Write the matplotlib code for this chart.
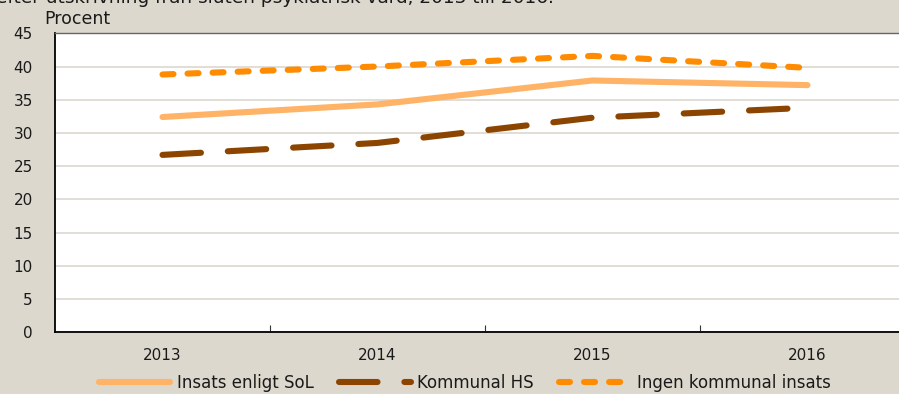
import matplotlib.pyplot as plt

# Andel (procent) per år och insatstyp
years = ['2013', '2014', '2015', '2016']
insats_sol = [32.4, 34.3, 37.9, 37.2]
kommunal_hs = [26.7, 28.5, 32.3, 33.8]
ingen_insats = [38.8, 40.0, 41.6, 39.8]

plt.rcParams['font.family'] = ['DejaVu Sans']
bg = '#ddd8ce'
txt = '#1a1a1a'

fig = plt.figure(figsize=(8.99, 3.94), dpi=100, facecolor=bg)
ax = fig.add_axes([55 / 899, 1 - 332.3 / 394, 860 / 899, 299 / 394])
ax.set_facecolor('white')

x = range(len(years))
ax.plot(x, insats_sol, color='#ffb366', lw=4.4, solid_capstyle='round',
        label='Insats enligt SoL', zorder=3)
ax.plot(x, kommunal_hs, color='#8b4500', lw=4.4, dashes=(6.3, 4.4),
        dash_capstyle='round', label='Kommunal HS', zorder=3)
ax.plot(x, ingen_insats, color='#ff8c00', lw=4.4, dashes=(1.8, 2.3),
        dash_capstyle='round', label='Ingen kommunal insats', zorder=3)

ax.set_xlim(-0.5, 3.5)
ax.set_ylim(0, 45)
ax.set_yticks(range(0, 46, 5))
ax.yaxis.grid(True, color='#dcd8d0', lw=1.2)
ax.set_axisbelow(True)
ax.tick_params(axis='y', length=0, pad=16, labelsize=11, labelcolor=txt)

# category boundaries as major ticks, year labels on minor ticks
ax.set_xticks([0.5, 1.5, 2.5])
ax.set_xticklabels([])
ax.set_xticks(list(x), minor=True)
ax.set_xticklabels(years, minor=True)
ax.tick_params(axis='x', which='major', direction='in', length=5, color='#333333')
ax.tick_params(axis='x', which='minor', length=0, pad=11, labelsize=11, labelcolor=txt)

for s in ('left', 'bottom'):
    ax.spines[s].set_color('black')
    ax.spines[s].set_linewidth(1.3)
ax.spines['top'].set_color('#666666')
ax.spines['top'].set_linewidth(1.0)
ax.spines['right'].set_visible(False)

fig.text(-0.004, 1 - 3 / 394, 'efter utskrivning från sluten psykiatrisk vård, 2013 till 2016.',
         fontsize=13.3, color=txt, va='baseline', ha='left')
fig.text(44 / 899, 1 - 24 / 394, 'Procent', fontsize=12.5, color=txt, va='baseline', ha='left')

handles, labels = ax.get_legend_handles_labels()
leg = fig.legend(handles, labels, loc='center', bbox_to_anchor=(465 / 899, 1 - 383 / 394),
                 ncol=3, frameon=False, fontsize=12, handlelength=4.3,
                 handletextpad=0.4, columnspacing=1.5, labelcolor=txt)

fig.savefig('out.png', dpi=100, facecolor=bg)
